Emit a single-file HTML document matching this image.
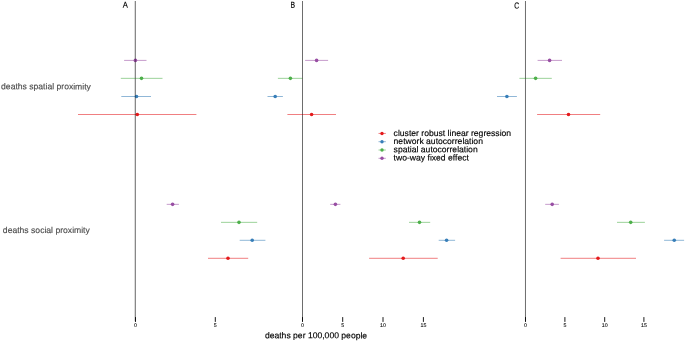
<!DOCTYPE html>
<html><head><meta charset="utf-8"><title>deaths per 100,000 people</title>
<style>
html,body{margin:0;padding:0;background:#fff;}
svg{display:block;}
text{font-family:"Liberation Sans",sans-serif;text-rendering:geometricPrecision;}
.b{stroke:#000;stroke-width:0.15px;}
.g{stroke:#4d4d4d;stroke-width:0.15px;}
</style></head><body>
<svg width="685" height="341" viewBox="0 0 685 341">
<rect width="685" height="341" fill="#fff"/>

<line x1="135.29" y1="1" x2="135.29" y2="321.3" stroke="#000" stroke-opacity="0.3" stroke-width="1"/>
<line x1="302.5" y1="1" x2="302.5" y2="321.3" stroke="#000" stroke-opacity="0.3" stroke-width="1"/>
<line x1="525.47" y1="1" x2="525.47" y2="321.3" stroke="#000" stroke-opacity="0.3" stroke-width="1"/>
<line x1="135.5" y1="317.1" x2="135.5" y2="321.9" stroke="#000" stroke-width="0.9"/>
<text transform="rotate(0.05 135.5 326.9)" x="135.5" y="326.9" font-size="5.3" text-anchor="middle" fill="#111" stroke="#111" stroke-width="0.1">0</text>
<line x1="215.3" y1="317.1" x2="215.3" y2="321.9" stroke="#000" stroke-width="0.9"/>
<text transform="rotate(0.05 215.3 326.9)" x="215.3" y="326.9" font-size="5.3" text-anchor="middle" fill="#111" stroke="#111" stroke-width="0.1">5</text>
<line x1="302.5" y1="317.1" x2="302.5" y2="321.9" stroke="#000" stroke-width="0.9"/>
<text transform="rotate(0.05 302.5 326.9)" x="302.5" y="326.9" font-size="5.3" text-anchor="middle" fill="#111" stroke="#111" stroke-width="0.1">0</text>
<line x1="342.7" y1="317.1" x2="342.7" y2="321.9" stroke="#000" stroke-width="0.9"/>
<text transform="rotate(0.05 342.7 326.9)" x="342.7" y="326.9" font-size="5.3" text-anchor="middle" fill="#111" stroke="#111" stroke-width="0.1">5</text>
<line x1="383.0" y1="317.1" x2="383.0" y2="321.9" stroke="#000" stroke-width="0.9"/>
<text transform="rotate(0.05 383.0 326.9)" x="383.0" y="326.9" font-size="5.3" text-anchor="middle" fill="#111" stroke="#111" stroke-width="0.1">10</text>
<line x1="423.4" y1="317.1" x2="423.4" y2="321.9" stroke="#000" stroke-width="0.9"/>
<text transform="rotate(0.05 423.4 326.9)" x="423.4" y="326.9" font-size="5.3" text-anchor="middle" fill="#111" stroke="#111" stroke-width="0.1">15</text>
<line x1="525.5" y1="317.1" x2="525.5" y2="321.9" stroke="#000" stroke-width="0.9"/>
<text transform="rotate(0.05 525.5 326.9)" x="525.5" y="326.9" font-size="5.3" text-anchor="middle" fill="#111" stroke="#111" stroke-width="0.1">0</text>
<line x1="564.9" y1="317.1" x2="564.9" y2="321.9" stroke="#000" stroke-width="0.9"/>
<text transform="rotate(0.05 564.9 326.9)" x="564.9" y="326.9" font-size="5.3" text-anchor="middle" fill="#111" stroke="#111" stroke-width="0.1">5</text>
<line x1="604.7" y1="317.1" x2="604.7" y2="321.9" stroke="#000" stroke-width="0.9"/>
<text transform="rotate(0.05 604.7 326.9)" x="604.7" y="326.9" font-size="5.3" text-anchor="middle" fill="#111" stroke="#111" stroke-width="0.1">10</text>
<line x1="643.9" y1="317.1" x2="643.9" y2="321.9" stroke="#000" stroke-width="0.9"/>
<text transform="rotate(0.05 643.9 326.9)" x="643.9" y="326.9" font-size="5.3" text-anchor="middle" fill="#111" stroke="#111" stroke-width="0.1">15</text>
<line x1="124.1" y1="60.4" x2="146.5" y2="60.4" stroke="#984ea3" stroke-width="0.56"/>
<circle cx="135.4" cy="60.4" r="1.8" fill="#984ea3"/>
<line x1="120.8" y1="78.35" x2="162.5" y2="78.35" stroke="#4daf4a" stroke-width="0.56"/>
<circle cx="141.5" cy="78.35" r="1.8" fill="#4daf4a"/>
<line x1="121.3" y1="96.5" x2="151.0" y2="96.5" stroke="#377eb8" stroke-width="0.56"/>
<circle cx="136.5" cy="96.5" r="1.8" fill="#377eb8"/>
<line x1="78.0" y1="114.5" x2="196.4" y2="114.5" stroke="#e41a1c" stroke-width="0.56"/>
<circle cx="137.3" cy="114.5" r="1.8" fill="#e41a1c"/>
<line x1="305.1" y1="60.4" x2="328.1" y2="60.4" stroke="#984ea3" stroke-width="0.56"/>
<circle cx="316.6" cy="60.4" r="1.8" fill="#984ea3"/>
<line x1="277.9" y1="78.35" x2="302.4" y2="78.35" stroke="#4daf4a" stroke-width="0.56"/>
<circle cx="290.4" cy="78.35" r="1.8" fill="#4daf4a"/>
<line x1="267.5" y1="96.5" x2="282.9" y2="96.5" stroke="#377eb8" stroke-width="0.56"/>
<circle cx="275.2" cy="96.5" r="1.8" fill="#377eb8"/>
<line x1="287.4" y1="114.5" x2="336.0" y2="114.5" stroke="#e41a1c" stroke-width="0.56"/>
<circle cx="311.6" cy="114.5" r="1.8" fill="#e41a1c"/>
<line x1="537.6" y1="60.4" x2="562.0" y2="60.4" stroke="#984ea3" stroke-width="0.56"/>
<circle cx="549.6" cy="60.4" r="1.8" fill="#984ea3"/>
<line x1="519.4" y1="78.35" x2="551.8" y2="78.35" stroke="#4daf4a" stroke-width="0.56"/>
<circle cx="535.6" cy="78.35" r="1.8" fill="#4daf4a"/>
<line x1="497.0" y1="96.5" x2="516.9" y2="96.5" stroke="#377eb8" stroke-width="0.56"/>
<circle cx="506.9" cy="96.5" r="1.8" fill="#377eb8"/>
<line x1="537.1" y1="114.5" x2="600.2" y2="114.5" stroke="#e41a1c" stroke-width="0.56"/>
<circle cx="568.5" cy="114.5" r="1.8" fill="#e41a1c"/>
<line x1="166.7" y1="204.35" x2="178.9" y2="204.35" stroke="#984ea3" stroke-width="0.56"/>
<circle cx="172.6" cy="204.35" r="1.8" fill="#984ea3"/>
<line x1="221.0" y1="222.35" x2="257.2" y2="222.35" stroke="#4daf4a" stroke-width="0.56"/>
<circle cx="239.0" cy="222.35" r="1.8" fill="#4daf4a"/>
<line x1="239.7" y1="240.3" x2="265.4" y2="240.3" stroke="#377eb8" stroke-width="0.56"/>
<circle cx="252.2" cy="240.3" r="1.8" fill="#377eb8"/>
<line x1="208.0" y1="258.3" x2="248.2" y2="258.3" stroke="#e41a1c" stroke-width="0.56"/>
<circle cx="228.0" cy="258.3" r="1.8" fill="#e41a1c"/>
<line x1="330.2" y1="204.35" x2="340.4" y2="204.35" stroke="#984ea3" stroke-width="0.56"/>
<circle cx="335.4" cy="204.35" r="1.8" fill="#984ea3"/>
<line x1="409.0" y1="222.35" x2="430.2" y2="222.35" stroke="#4daf4a" stroke-width="0.56"/>
<circle cx="419.5" cy="222.35" r="1.8" fill="#4daf4a"/>
<line x1="438.7" y1="240.3" x2="455.1" y2="240.3" stroke="#377eb8" stroke-width="0.56"/>
<circle cx="446.6" cy="240.3" r="1.8" fill="#377eb8"/>
<line x1="369.1" y1="258.3" x2="437.7" y2="258.3" stroke="#e41a1c" stroke-width="0.56"/>
<circle cx="403.2" cy="258.3" r="1.8" fill="#e41a1c"/>
<line x1="545.2" y1="204.35" x2="558.9" y2="204.35" stroke="#984ea3" stroke-width="0.56"/>
<circle cx="552.2" cy="204.35" r="1.8" fill="#984ea3"/>
<line x1="617.0" y1="222.35" x2="644.9" y2="222.35" stroke="#4daf4a" stroke-width="0.56"/>
<circle cx="630.7" cy="222.35" r="1.8" fill="#4daf4a"/>
<line x1="664.1" y1="240.3" x2="684.1" y2="240.3" stroke="#377eb8" stroke-width="0.56"/>
<circle cx="674.25" cy="240.3" r="1.8" fill="#377eb8"/>
<line x1="560.6" y1="258.3" x2="636.0" y2="258.3" stroke="#e41a1c" stroke-width="0.56"/>
<circle cx="598.0" cy="258.3" r="1.8" fill="#e41a1c"/>
<line x1="135.29" y1="1" x2="135.29" y2="321.3" stroke="#000" stroke-opacity="0.39" stroke-width="1"/>
<line x1="302.5" y1="1" x2="302.5" y2="321.3" stroke="#000" stroke-opacity="0.39" stroke-width="1"/>
<line x1="525.47" y1="1" x2="525.47" y2="321.3" stroke="#000" stroke-opacity="0.39" stroke-width="1"/>
<text transform="translate(125.25 7.7) rotate(0.05) scale(0.88 1)" font-size="8.7" text-anchor="middle" fill="#000" stroke="#000" stroke-width="0.15">A</text>
<text transform="translate(292.85 7.8) rotate(0.05) scale(0.78 1)" font-size="8.7" text-anchor="middle" fill="#000" stroke="#000" stroke-width="0.15">B</text>
<text transform="translate(516.75 8.4) rotate(0.05) scale(0.78 1)" font-size="8.7" text-anchor="middle" fill="#000" stroke="#000" stroke-width="0.15">C</text>
<text transform="rotate(0.05 90.9 89.4)" x="90.9" y="89.4" font-size="8.6" text-anchor="end" class="g" fill="#4d4d4d">deaths spatial proximity</text>
<text transform="rotate(0.05 89.8 233.05)" x="89.8" y="233.05" font-size="8.6" text-anchor="end" class="g" fill="#4d4d4d">deaths social proximity</text>
<text transform="rotate(0.05 264.9 338.3)" x="264.9" y="338.3" font-size="8.6" class="b" fill="#000">deaths per 100,000 people</text>
<line x1="378.5" y1="133.45" x2="385.8" y2="133.45" stroke="#e41a1c" stroke-width="0.56"/>
<circle cx="382" cy="133.45" r="1.7" fill="#e41a1c"/>
<text transform="rotate(0.05 393.6 136.0)" x="393.6" y="136.0" font-size="8.6" class="b" fill="#000">cluster robust linear regression</text>
<line x1="378.5" y1="141.7" x2="385.8" y2="141.7" stroke="#377eb8" stroke-width="0.56"/>
<circle cx="382" cy="141.7" r="1.7" fill="#377eb8"/>
<text transform="rotate(0.05 393.6 144.0)" x="393.6" y="144.0" font-size="8.6" class="b" fill="#000">network autocorrelation</text>
<line x1="378.5" y1="150.0" x2="385.8" y2="150.0" stroke="#4daf4a" stroke-width="0.56"/>
<circle cx="382" cy="150.0" r="1.7" fill="#4daf4a"/>
<text transform="rotate(0.05 393.6 152.15)" x="393.6" y="152.15" font-size="8.6" class="b" fill="#000">spatial autocorrelation</text>
<line x1="378.5" y1="158.3" x2="385.8" y2="158.3" stroke="#984ea3" stroke-width="0.56"/>
<circle cx="382" cy="158.3" r="1.7" fill="#984ea3"/>
<text transform="rotate(0.05 393.6 160.4)" x="393.6" y="160.4" font-size="8.6" class="b" fill="#000">two-way fixed effect</text>
</svg></body></html>
